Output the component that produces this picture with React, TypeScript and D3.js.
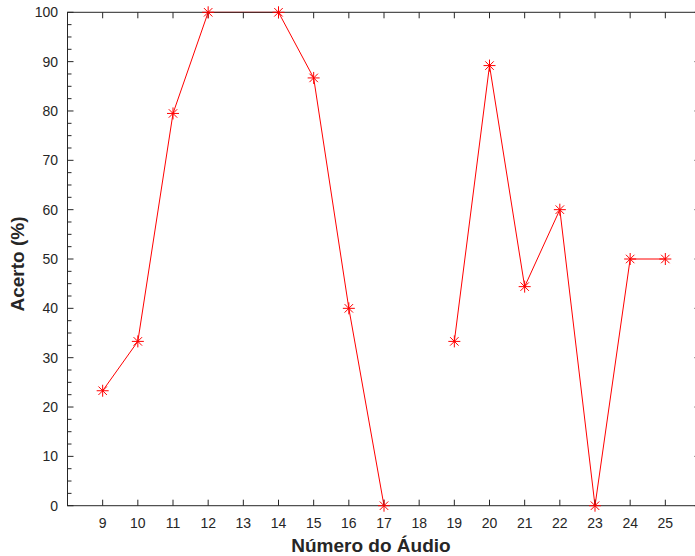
import React from "react";
import * as d3 from "d3";

const audioNumbers = [9, 10, 11, 12, 14, 15, 16, 17, 18, 19, 20, 21, 22, 23, 24, 25];
const accuracy: (number | null)[] = [23.3, 33.3, 79.5, 100, 100, 86.7, 40, 0, null, 33.3, 89.2, 44.4, 60, 0, 50, 50];
const xTicks = [9, 10, 11, 12, 13, 14, 15, 16, 17, 18, 19, 20, 21, 22, 23, 24, 25];
const yTicks = [0, 10, 20, 30, 40, 50, 60, 70, 80, 90, 100];

const W = 695;
const H = 556;
const M = { left: 67.5, right: 700.5, top: 12.3, bottom: 505.7 };
const FONT = "'Liberation Sans', Arial, Helvetica, sans-serif";
const AXC = "#262626";

export default function App() {
  const x = d3.scaleLinear().domain([8, 26]).range([M.left, M.right]);
  const y = d3.scaleLinear().domain([0, 100]).range([M.bottom, M.top]);
  const pts = audioNumbers.map((a, i) => ({ a, v: accuracy[i] }));
  const line = d3
    .line<{ a: number; v: number | null }>()
    .defined((d) => d.v !== null)
    .x((d) => x(d.a))
    .y((d) => y(d.v as number));
  const minor = d3.range(0, 100.01, 2.5).filter((v) => v % 10 !== 0);
  const star = (cx: number, cy: number, r: number) => {
    const d = r * Math.SQRT1_2;
    return `M${cx - r},${cy}L${cx + r},${cy}M${cx},${cy - r}L${cx},${cy + r}M${cx - d},${cy - d}L${cx + d},${cy + d}M${cx - d},${cy + d}L${cx + d},${cy - d}`;
  };
  return (
    <svg width={W} height={H} style={{ position: "absolute", left: 0, top: 0, background: "#fff" }}>
      <rect x={0} y={0} width={W} height={H} fill="#fff" />
      {/* series line */}
      <path d={line(pts) || ""} fill="none" stroke="#ff0000" strokeWidth={1} />
      {/* box */}
      <rect x={M.left} y={M.top} width={M.right - M.left} height={M.bottom - M.top} fill="none" stroke={AXC} strokeWidth={1} />
      {/* x ticks */}
      {xTicks.map((t) => (
        <g key={"x" + t}>
          <line x1={x(t)} x2={x(t)} y1={M.bottom} y2={M.bottom - 6} stroke={AXC} />
          <line x1={x(t)} x2={x(t)} y1={M.top} y2={M.top + 6} stroke={AXC} />
          <text x={x(t)} y={523} textAnchor="middle" dominantBaseline="central" fontFamily={FONT} fontSize={14} fill={AXC}>
            {t}
          </text>
        </g>
      ))}
      {/* y ticks */}
      {yTicks.map((t) => (
        <g key={"y" + t}>
          <line x1={M.left} x2={M.left + 6} y1={y(t)} y2={y(t)} stroke={AXC} />
          <line x1={M.right} x2={M.right - 6} y1={y(t)} y2={y(t)} stroke={AXC} />
          <text x={58} y={y(t)} textAnchor="end" dominantBaseline="central" fontFamily={FONT} fontSize={14} fill={AXC}>
            {t}
          </text>
        </g>
      ))}
      {minor.map((t) => (
        <line key={"m" + t} x1={M.left} x2={M.left + 4} y1={y(t)} y2={y(t)} stroke={AXC} />
      ))}
      {/* markers */}
      {pts
        .filter((p) => p.v !== null)
        .map((p) => (
          <path key={"p" + p.a} d={star(x(p.a), y(p.v as number), 6)} stroke="#ff0000" strokeWidth={1} fill="none" />
        ))}
      {/* labels */}
      <text
        transform={`translate(17,264) rotate(-90)`}
        textAnchor="middle"
        dominantBaseline="central"
        fontFamily={FONT}
        fontSize={19}
        fontWeight="bold"
        fill={AXC}
      >
        Acerto (%)
      </text>
      <text x={371} y={545} textAnchor="middle" dominantBaseline="central" fontFamily={FONT} fontSize={19} fontWeight="bold" fill={AXC}>
        Número do Áudio
      </text>
    </svg>
  );
}
